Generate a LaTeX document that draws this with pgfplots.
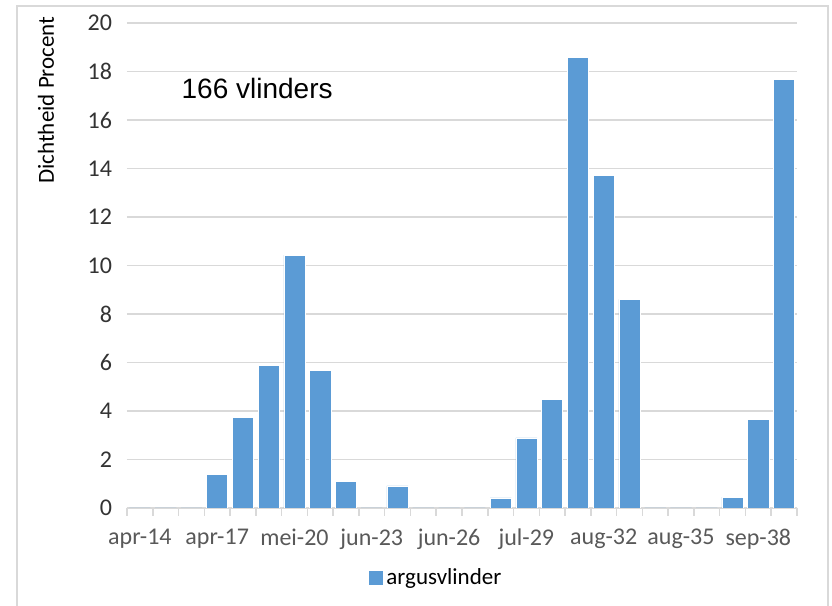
\documentclass[border=0pt]{standalone}
\usepackage{fontspec}
\setmainfont{Carlito}
\newfontfamily\arialfont{Liberation Sans}
\usepackage{pgfplots}
\pgfplotsset{compat=1.18}
\definecolor{barblue}{HTML}{5B9BD5}
\definecolor{gridgray}{HTML}{D9D9D9}
\definecolor{ticktext}{HTML}{595959}
\begin{document}
\begin{tikzpicture}
\useasboundingbox (0,0) rectangle (416pt,303pt);
\fill[white] (0,0) rectangle (416pt,303pt);
\draw[gridgray, line width=0.8pt] (8.5pt,-3pt) -- (8.5pt,300pt) -- (414pt,300pt) -- (414pt,-3pt);
\begin{axis}[
  at={(63.5pt,49pt)}, anchor=south west,
  scale only axis, width=335pt, height=242.5pt,
  xmin=-0.5, xmax=25.5, ymin=0, ymax=20,
  axis x line*=bottom, axis y line*=left,
  y axis line style={draw=none},
  x axis line style={draw=gridgray, line width=0.8pt},
  xtick={0,3,...,24},
  xticklabels={apr-14,apr-17,mei-20,jun-23,jun-26,jul-29,aug-32,aug-35,sep-38},
  minor xtick={-0.5,0.5,...,25.5},
  major tick length=0pt,
  minor tick length=3.8pt,
  tick align=outside,
  minor x tick style={draw=gridgray, line width=0.8pt},
  ytick={0,2,...,20},
  ymajorgrids, grid style={draw=gridgray, line width=0.8pt},
  /pgf/number format/assume math mode=true,
  xticklabel style={font=\fontsize{12}{14}\selectfont, text=ticktext, yshift=-7pt},
  yticklabel style={font=\fontsize{12}{14}\selectfont, text=black!80, xshift=-4pt},
  ylabel={Dichtheid Procent},
  ylabel style={at={(axis description cs:-0.121,0.841)}, anchor=center, font=\fontsize{11.5}{13}\selectfont},
  legend style={at={(axis description cs:0.463,-0.144)}, anchor=center, draw=none, fill=none, font=\fontsize{11.5}{13}\selectfont},
  legend image code/.code={\fill[barblue] (0pt,-3.2pt) rectangle (6.4pt,3.2pt);},
]
\addplot[ybar, bar width=10.6pt, fill=barblue, draw=white, line width=0.3pt] coordinates {
(0,0) (1,0) (2,0) (3,1.39) (4,3.73) (5,5.87) (6,10.43) (7,5.66) (8,1.09) (9,0)
(10,0.91) (11,0) (12,0) (13,0) (14,0.42) (15,2.89) (16,4.48) (17,18.57) (18,13.70) (19,8.6)
(20,0) (21,0) (22,0) (23,0.45) (24,3.64) (25,17.68)
};
\addlegendentry{argusvlinder}
\node[anchor=west, inner sep=0pt, font=\arialfont\fontsize{14}{16}\selectfont] at (axis description cs:0.081,0.864) {166 vlinders};
\end{axis}
\end{tikzpicture}
\end{document}
